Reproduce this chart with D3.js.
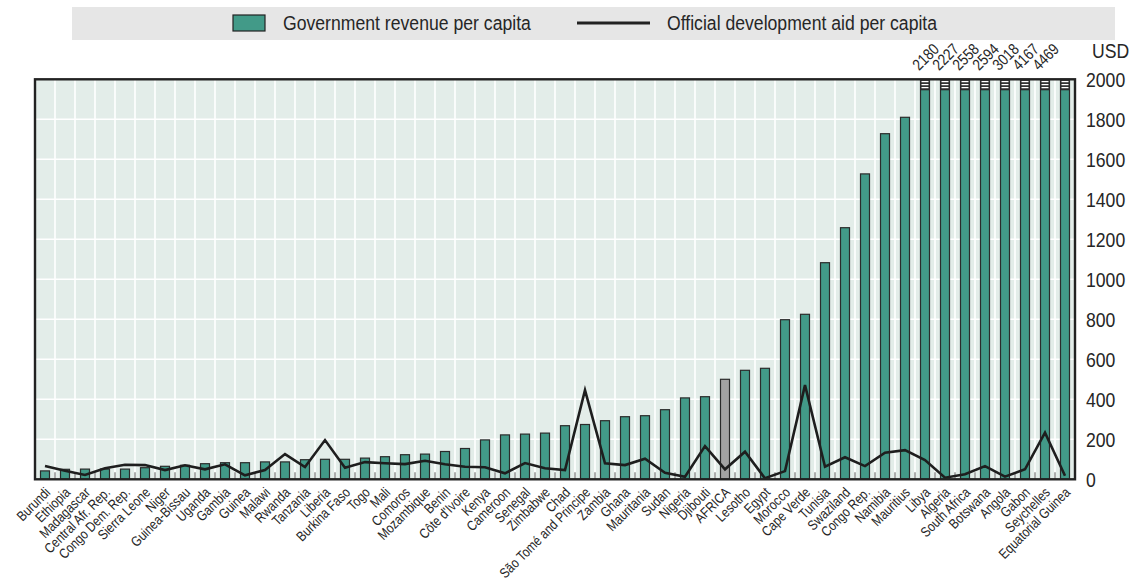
<!DOCTYPE html>
<html>
<head>
<meta charset="utf-8">
<script src="https://cdn.jsdelivr.net/npm/d3@7"></script>
<style>
  body { margin: 0; background: #fff; }
  svg text { font-family: "Liberation Sans", Arial, sans-serif; fill: #262626; }
</style>
</head>
<body>
<script>
// countries, ordered by government revenue per capita
const countries = ["Burundi", "Ethiopia", "Madagascar", "Central Afr. Rep.", "Congo Dem. Rep.", "Sierra Leone",
  "Niger", "Guinea-Bissau", "Uganda", "Gambia", "Guinea", "Malawi", "Rwanda", "Tanzania", "Liberia",
  "Burkina Faso", "Togo", "Mali", "Comoros", "Mozambique", "Benin", "Côte d'Ivoire", "Kenya", "Cameroon",
  "Senegal", "Zimbabwe", "Chad", "São Tomé and Principe", "Zambia", "Ghana", "Mauritania", "Sudan",
  "Nigeria", "Djibouti", "AFRICA", "Lesotho", "Egypt", "Morocco", "Cape Verde", "Tunisia", "Swaziland",
  "Congo Rep.", "Namibia", "Mauritius", "Libya", "Algeria", "South Africa", "Botswana", "Angola", "Gabon",
  "Seychelles", "Equatorial Guinea"];

// Government revenue per capita (USD)
const revenue = [42, 50, 51, 51, 51, 58, 65, 70, 78, 83, 83, 87, 87, 98, 100, 100, 106, 113, 123, 126,
  139, 154, 197, 222, 226, 231, 268, 274, 293, 313, 318, 348, 407, 413, 500, 545, 555, 798, 825, 1083,
  1258, 1527, 1728, 1810, 2180, 2227, 2558, 2594, 3018, 4167, 4469, 4800];

// Official development aid per capita (USD)
const oda = [66, 43, 22, 55, 73, 71, 46, 70, 50, 75, 20, 46, 126, 61, 196, 58, 86, 80, 76, 93,
  75, 63, 60, 30, 81, 55, 46, 446, 80, 71, 103, 33, 13, 166, 50, 138, 5, 41, 471, 63,
  110, 66, 133, 146, 96, 8, 25, 66, 13, 50, 233, 18];

// values printed above the bars cut at the top of the scale
const clippedLabels = ["2180", "2227", "2558", "2594", "3018", "4167", "4469"];

const yTicks = [0, 200, 400, 600, 800, 1000, 1200, 1400, 1600, 1800, 2000];

const W = 1129, H = 581;
const plot = { left: 35, right: 1075, top: 79.3, bottom: 479.3 };
const yMax = 2000;
const teal = "#429a88";
const narrow = "scale(0.84,1)"; // no condensed face installed, squeeze the glyphs instead

const svg = d3.select("body").append("svg").attr("width", W).attr("height", H);

const x = d3.scaleBand().domain(countries).range([plot.left, plot.right]).padding(0);
const y = d3.scaleLinear().domain([0, yMax]).range([plot.bottom, plot.top]);
const cx = d => x(d) + x.bandwidth() / 2;

function label(g, tx, ty, str, size, extra) {
  return g.append("text")
    .attr("transform", `translate(${tx},${ty}) ${extra || ""} ${narrow}`)
    .attr("font-size", size).text(str);
}

// legend
const legend = svg.append("g");
legend.append("rect").attr("x", 72).attr("y", 7).attr("width", 1043).attr("height", 33).attr("fill", "#e6e6e6");
legend.append("rect").attr("x", 233).attr("y", 15).attr("width", 32).attr("height", 16)
  .attr("fill", teal).attr("stroke", "#222").attr("stroke-width", 1.2);
label(legend, 283, 30, "Government revenue per capita", 21);
legend.append("line").attr("x1", 577).attr("x2", 650).attr("y1", 23).attr("y2", 23)
  .attr("stroke", "#222").attr("stroke-width", 3);
label(legend, 667, 30, "Official development aid per capita", 21);

// plot background and grid
svg.append("rect").attr("x", plot.left).attr("y", plot.top)
  .attr("width", plot.right - plot.left).attr("height", plot.bottom - plot.top).attr("fill", "#e3ede9");

svg.append("g").selectAll("line").data(yTicks.slice(1, -1)).join("line")
  .attr("x1", plot.left).attr("x2", plot.right)
  .attr("y1", d => y(d)).attr("y2", d => y(d))
  .attr("stroke", "#fff").attr("stroke-width", 1.6);

svg.append("g").selectAll("line").data(countries.slice(1)).join("line")
  .attr("x1", d => x(d)).attr("x2", d => x(d))
  .attr("y1", plot.top).attr("y2", plot.bottom)
  .attr("stroke", "#fff").attr("stroke-width", 1.6);

// small ticks along the bottom
svg.append("g").selectAll("line").data(countries.slice(1)).join("line")
  .attr("x1", d => x(d)).attr("x2", d => x(d))
  .attr("y1", plot.bottom - 7).attr("y2", plot.bottom)
  .attr("stroke", "#8a8a8a").attr("stroke-width", 1.4);

// bars
const barW = 9;
svg.append("g").selectAll("rect").data(countries).join("rect")
  .attr("x", d => cx(d) - barW / 2)
  .attr("width", barW)
  .attr("y", (d, i) => y(Math.min(revenue[i], yMax)))
  .attr("height", (d, i) => plot.bottom - y(Math.min(revenue[i], yMax)))
  .attr("fill", d => d === "AFRICA" ? "#a3a3a3" : teal)
  .attr("stroke", "#2b2b2b").attr("stroke-width", 1.2);

// break marks on bars that go past the scale
const clipped = countries.filter((d, i) => revenue[i] > yMax);
const brk = svg.append("g");
clipped.forEach(d => {
  const x0 = cx(d) - barW / 2;
  brk.append("rect").attr("x", x0).attr("y", plot.top).attr("width", barW).attr("height", 11).attr("fill", "#2b2b2b");
  [2.3, 5.3, 8.3].forEach(o => {
    brk.append("line").attr("x1", x0 + 1).attr("x2", x0 + barW - 1)
      .attr("y1", plot.top + o).attr("y2", plot.top + o)
      .attr("stroke", "#fff").attr("stroke-width", 1.3);
  });
});

const brkLabels = svg.append("g");
clippedLabels.forEach((t, i) => label(brkLabels, cx(clipped[i]) - 6, plot.top - 8, t, 16, "rotate(-45)"));

// ODA line
const line = d3.line().x(d => cx(d)).y((d, i) => y(oda[i]));
svg.append("path").datum(countries).attr("d", line)
  .attr("fill", "none").attr("stroke", "#1e1e1e").attr("stroke-width", 2.6).attr("stroke-linejoin", "miter");

// frame
svg.append("rect").attr("x", plot.left).attr("y", plot.top)
  .attr("width", plot.right - plot.left).attr("height", plot.bottom - plot.top)
  .attr("fill", "none").attr("stroke", "#222").attr("stroke-width", 2.4);

// right axis
const yAxis = svg.append("g");
yTicks.forEach(t => {
  label(yAxis, 1086, y(t), d3.format("d")(t), 21).attr("dy", "0.36em");
});
label(svg, 1092, 58, "USD", 21);

// country labels
const xLabels = svg.append("g");
countries.forEach(c => {
  label(xLabels, cx(c) + 6, plot.bottom + 14, c, 14, "rotate(-45)").attr("text-anchor", "end");
});
</script>
</body>
</html>
